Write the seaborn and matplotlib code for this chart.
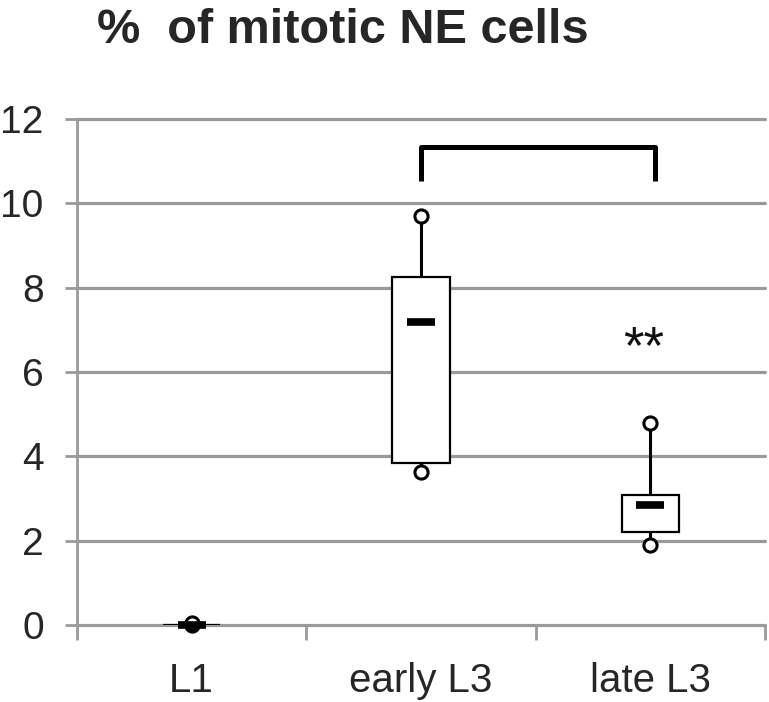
import matplotlib
matplotlib.use("Agg")
import matplotlib.pyplot as plt
import numpy as np
import pandas as pd
import seaborn as sns

# summary values
stages = ["L1", "early L3", "late L3"]
v_min = [0.0, 3.64, 1.90]
q1 = [0.0, 3.84, 2.20]
median = [0.0, 7.18, 2.84]
q3 = [0.0, 8.26, 3.08]
v_max = [0.05, 9.70, 4.78]
y_ticks = [0, 2, 4, 6, 8, 10, 12]

GRAY = "#9a9a9a"

sns.set_theme(style="white")
plt.rcParams['font.family'] = ['Liberation Sans', 'DejaVu Sans']

fig = plt.figure(figsize=(7.69, 7.02), dpi=100)
ax = fig.add_axes([77 / 769, 1 - 625 / 702, 688 / 769, 506 / 702])

pos = np.arange(len(stages))
df = pd.DataFrame({"stage": stages, "pos": pos, "min": v_min, "q1": q1,
                   "median": median, "q3": q3, "max": v_max})

# grid
for t in y_ticks:
    ax.axhline(t, color=GRAY, lw=2.3, zorder=0, clip_on=False)

# whiskers (high-low line)
ax.vlines(df["pos"], df["min"], df["max"], color="black", lw=2.2, zorder=2)
# boxes
ax.bar(df["pos"], df["q3"] - df["q1"], bottom=df["q1"], width=0.25,
       facecolor="white", edgecolor="black", linewidth=1.6, zorder=3)

# end points
pts = pd.concat([df[["pos", "min"]].rename(columns={"min": "v"}),
                 df[["pos", "max"]].rename(columns={"max": "v"})])
sns.scatterplot(data=pts, x="pos", y="v", ax=ax, marker="o", s=90,
                facecolor="white", edgecolor="black", linewidth=2.2,
                zorder=4, clip_on=False, legend=False)
# median dashes
sns.scatterplot(data=df, x="pos", y="median", ax=ax, marker="_", s=380,
                color="black", linewidth=5.5, zorder=5, clip_on=False,
                legend=False)

# significance bracket
bx = [1.0, 1.0, 2.02, 2.02]
by = [10.52, 11.33, 11.33, 10.52]
ax.plot(bx, by, color="black", lw=3.6, solid_joinstyle="round",
        solid_capstyle="butt", zorder=5)
ax.text(1.97, 6.55, "**", ha="center", va="center", fontsize=38, color="#111111")

ax.set_xlim(-0.5, 2.5)
ax.set_ylim(0, 12)
ax.set_xlabel("")
ax.set_ylabel("")

ax.set_yticks(y_ticks)
ax.set_yticklabels([str(t) for t in y_ticks])
ax.tick_params(axis="y", length=9, width=2, color=GRAY, direction="out",
               pad=15, labelsize=28, left=True)

ax.set_xticks(pos)
ax.set_xticklabels(stages)
ax.set_xticks([-0.5, 0.5, 1.5, 2.5], minor=True)
ax.tick_params(axis="x", which="major", length=0, pad=27, labelsize=29)
ax.tick_params(axis="x", which="minor", length=11, width=2, color=GRAY,
               direction="out", bottom=True)

for s in ["top", "right", "bottom"]:
    ax.spines[s].set_visible(False)
ax.spines["left"].set_color(GRAY)
ax.spines["left"].set_linewidth(2)
ax.spines["left"].set_bounds(0, 12)

fig.text(97 / 769, 1 - 43 / 702, "%  of mitotic NE cells", fontsize=35,
         fontweight="bold", ha="left", va="baseline")

fig.savefig("out.png", dpi=100)
